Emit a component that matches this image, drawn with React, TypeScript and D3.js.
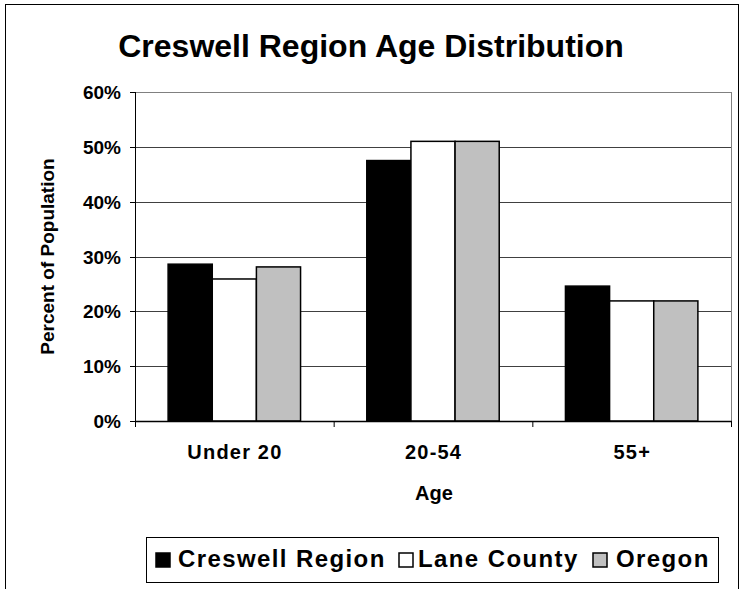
import React from 'react'
import { scaleBand, scaleLinear, format } from 'd3'

const categories = ['Under 20', '20-54', '55+']
const seriesNames = ['Creswell Region', 'Lane County', 'Oregon']
const creswell = [0.286, 0.475, 0.246]
const lane = [0.259, 0.51, 0.219]
const oregon = [0.281, 0.51, 0.219]
const yTicks = [0, 0.1, 0.2, 0.3, 0.4, 0.5, 0.6]

const seriesValues = [creswell, lane, oregon]
const fills = ['#000000', '#ffffff', '#c0c0c0']

const width = 749
const height = 589
const plot = { left: 135, right: 731, top: 92, bottom: 421 }
const font = 'Arial, "Liberation Sans", Helvetica, sans-serif'

function App() {
    const x = scaleBand().domain(categories).range([plot.left, plot.right])
    const xs = scaleBand()
        .domain(seriesNames)
        .range([0, x.bandwidth()])
        .paddingInner(0)
        .paddingOuter(0.75)
    const y = scaleLinear().domain([0, 0.6]).range([plot.bottom, plot.top])
    const pct = format('.0%')

    const boundaries = categories.map(c => x(c)).concat([plot.right])

    // legend layout (marker left, text left)
    const legendBase = 567
    const legendItems = [
        { name: seriesNames[0], fill: fills[0], mx: 156, tx: 178 },
        { name: seriesNames[1], fill: fills[1], mx: 399, tx: 418 },
        { name: seriesNames[2], fill: fills[2], mx: 593, tx: 616 },
    ]

    return (
        <svg
            width={width}
            height={height}
            style={{ position: 'absolute', left: 0, top: 0, background: '#fff' }}
            fontFamily={font}
        >
            <rect x={5.5} y={4.5} width={733} height={700} fill="#fff" stroke="#000" />

            <text x={371} y={57} textAnchor="middle" fontSize={32} fontWeight="bold">
                Creswell Region Age Distribution
            </text>

            {/* gridlines */}
            {yTicks.slice(1).map(t => (
                <line
                    key={t}
                    x1={plot.left}
                    x2={plot.right}
                    y1={Math.round(y(t)) + 0.5}
                    y2={Math.round(y(t)) + 0.5}
                    stroke={t === 0.6 ? '#808080' : '#404040'}
                />
            ))}
            <line x1={plot.right + 0.5} x2={plot.right + 0.5} y1={plot.top} y2={plot.bottom} stroke="#808080" />

            {/* bars */}
            {categories.map((c, i) => (
                <g key={c} transform={`translate(${x(c)},0)`}>
                    {seriesNames.map((s, j) => (
                        <rect
                            key={s}
                            x={xs(s)}
                            y={y(seriesValues[j][i])}
                            width={xs.bandwidth()}
                            height={plot.bottom - y(seriesValues[j][i])}
                            fill={fills[j]}
                            stroke="#000"
                            strokeWidth={1.5}
                        />
                    ))}
                </g>
            ))}

            {/* y axis */}
            <line x1={plot.left + 0.5} x2={plot.left + 0.5} y1={plot.top} y2={plot.bottom} stroke="#000" />
            {yTicks.map(t => (
                <g key={t} transform={`translate(0,${Math.round(y(t)) + 0.5})`}>
                    <line x1={plot.left - 5} x2={plot.left} stroke="#000" />
                    <text x={121} dy="0.36em" textAnchor="end" fontSize={19} fontWeight="bold">
                        {pct(t)}
                    </text>
                </g>
            ))}
            <text
                transform={`translate(54,${(plot.top + plot.bottom) / 2}) rotate(-90)`}
                textAnchor="middle"
                fontSize={19}
                fontWeight="bold"
            >
                Percent of Population
            </text>

            {/* x axis */}
            <line x1={plot.left} x2={plot.right + 1} y1={plot.bottom + 0.5} y2={plot.bottom + 0.5} stroke="#000" strokeWidth={1.5} />
            {boundaries.map((b, i) => (
                <line key={i} x1={b + 0.5} x2={b + 0.5} y1={plot.bottom} y2={plot.bottom + 6} stroke="#000" />
            ))}
            {categories.map(c => (
                <text
                    key={c}
                    x={x(c) + x.bandwidth() / 2 + 0.6}
                    y={459}
                    textAnchor="middle"
                    fontSize={20}
                    fontWeight="bold"
                    letterSpacing={1.2}
                >
                    {c}
                </text>
            ))}
            <text x={(plot.left + plot.right) / 2 + 1} y={500} textAnchor="middle" fontSize={20} fontWeight="bold">
                Age
            </text>

            {/* legend */}
            <rect x={146.5} y={537.5} width={572} height={45} fill="#fff" stroke="#000" />
            {legendItems.map(d => (
                <g key={d.name}>
                    <rect x={d.mx} y={legendBase - 14} width={14} height={14} fill={d.fill} stroke="#000" strokeWidth={1.5} />
                    <text x={d.tx} y={legendBase} fontSize={24} fontWeight="bold" letterSpacing={1.4}>
                        {d.name}
                    </text>
                </g>
            ))}
        </svg>
    )
}

export default App
